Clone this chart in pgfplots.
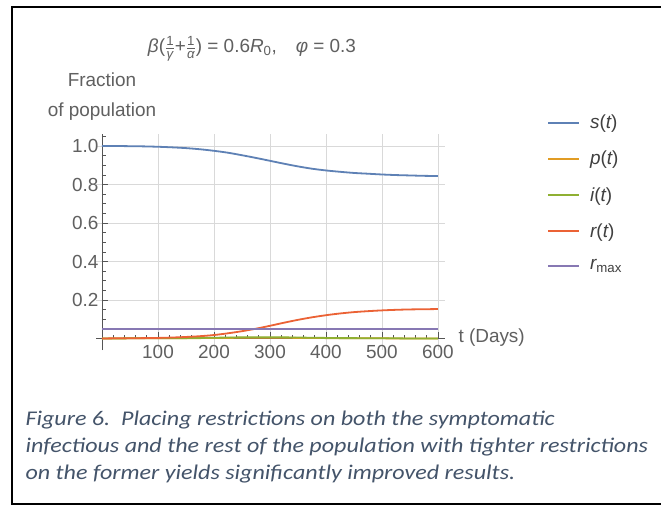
\documentclass[border=0pt]{standalone}
\usepackage{pgfplots}
\pgfplotsset{compat=1.18}
\usepackage{amsmath}
\usepackage{fontspec}
\setmainfont{Liberation Sans}
\newfontfamily\capfont[FakeStretch=1.15]{Carlito}

\definecolor{mmaBlue}{HTML}{5E81B5}
\definecolor{mmaOrange}{HTML}{E19C24}
\definecolor{mmaGreen}{HTML}{8FB032}
\definecolor{mmaRed}{HTML}{EB6235}
\definecolor{mmaPurple}{HTML}{8778B3}
\definecolor{axisgray}{HTML}{555555}
\definecolor{gridgray}{HTML}{D9D9D9}
\definecolor{labgray}{HTML}{606060}
\definecolor{capcol}{HTML}{44546A}

\pgfplotstableread{
t    s      p      i      r
0    1.000  0.000  0.000  0.000
25   1.000  0.000  0.000  0.001
50   0.999  0.001  0.001  0.001
75   0.998  0.001  0.001  0.002
100  0.996  0.001  0.001  0.003
125  0.993  0.001  0.002  0.005
150  0.989  0.002  0.002  0.008
175  0.983  0.002  0.003  0.012
200  0.975  0.003  0.004  0.018
225  0.965  0.003  0.005  0.027
250  0.952  0.004  0.006  0.038
275  0.938  0.004  0.006  0.051
300  0.923  0.004  0.006  0.066
325  0.908  0.004  0.006  0.082
350  0.894  0.003  0.005  0.097
375  0.882  0.003  0.004  0.110
400  0.873  0.002  0.003  0.121
425  0.866  0.002  0.002  0.130
450  0.860  0.001  0.002  0.137
475  0.856  0.001  0.001  0.142
500  0.852  0.001  0.001  0.146
525  0.849  0.000  0.001  0.149
550  0.847  0.000  0.000  0.151
575  0.845  0.000  0.000  0.152
600  0.844  0.000  0.000  0.153
}\sirdata

\begin{document}
\begin{tikzpicture}
\useasboundingbox (0bp,0bp) rectangle (661bp,506bp);
\fill[white] (0bp,0bp) rectangle (661bp,506bp);
% frame of the figure box
\draw[line width=2.4bp] (662bp,499bp) -- (12bp,499bp) -- (12bp,2bp) -- (662bp,2bp);

\begin{axis}[
    at={(96.4bp,155.95bp)}, anchor=south west,
    scale only axis, width=348.3bp, height=215.6bp,
    xmin=-10, xmax=612, ymin=-0.06, ymax=1.06,
    axis lines=middle,
    axis line style={-, draw=axisgray, line width=0.8bp},
    xtick={100,200,...,600},
    ytick={0.2,0.4,0.6,0.8,1.0},
    minor xtick={20,40,...,600},
    minor ytick={0.05,0.1,...,1.05},
    tick align=inside,
    major tick length=6bp, minor tick length=3.5bp,
    tick style={draw=axisgray, line width=0.6bp},
    grid=major,
    major grid style={draw=gridgray, line width=0.7bp},
    ticklabel style={font=\fontsize{19}{22}\selectfont, text=labgray},
    xticklabel style={yshift=-3.5bp},
    /pgf/number format/assume math mode=true,
    yticklabel style={/pgf/number format/.cd, fixed, fixed zerofill, precision=1},
    clip=false,
    legend cell align=left,
    legend image code/.code={\draw[#1, line width=2bp] (0bp,0bp) -- (31bp,0bp);},
    legend style={at={(1.285,1.11)}, anchor=north west, draw=none, fill=none,
        font=\fontsize{19}{22}\selectfont, text=black!75, row sep=17bp,
        /tikz/every odd column/.append style={column sep=8bp}},
    every axis plot/.append style={line width=1.8bp},
]
\addplot[mmaBlue, smooth] table[x=t, y=s] {\sirdata};
\addlegendentry{{\itshape s}({\itshape t})}
\addplot[mmaOrange, smooth] table[x=t, y=p] {\sirdata};
\addlegendentry{{\itshape p}({\itshape t})}
\addplot[mmaGreen, smooth] table[x=t, y=i] {\sirdata};
\addlegendentry{{\itshape i}({\itshape t})}
\addplot[mmaRed, smooth] table[x=t, y=r] {\sirdata};
\addlegendentry{{\itshape r}({\itshape t})}
\addplot[mmaPurple] coordinates {(0,0.05) (600,0.05)};
\addlegendentry{{\itshape r}\textsubscript{max}}
\end{axis}

\node[font=\fontsize{19}{22}\selectfont, text=labgray] at (252bp,457bp)
  {{\itshape β}($\frac{\text{1}}{\text{\itshape γ}}$+$\frac{\text{1}}{\text{\itshape α}}$) = 0.6{\itshape R}\textsubscript{0},\quad {\itshape φ} = 0.3};
\node[font=\fontsize{19}{30}\selectfont, text=labgray, align=center] at (102bp,409bp)
  {Fraction\\of population};
\node[font=\fontsize{19}{22}\selectfont, text=labgray, anchor=west] at (455bp,168bp) {t (Days)};

\node[anchor=base west, font=\capfont\itshape\fontsize{21}{27}\selectfont, text=capcol] at (22bp,80bp)
  {Figure 6.\ \ Placing restrictions on both the symptomatic};
\node[anchor=base west, font=\capfont\itshape\fontsize{21}{27}\selectfont, text=capcol] at (22bp,53bp)
  {infectious and the rest of the population with tighter restrictions};
\node[anchor=base west, font=\capfont\itshape\fontsize{21}{27}\selectfont, text=capcol] at (22bp,27bp)
  {on the former yields significantly improved results.};
\end{tikzpicture}
\end{document}
